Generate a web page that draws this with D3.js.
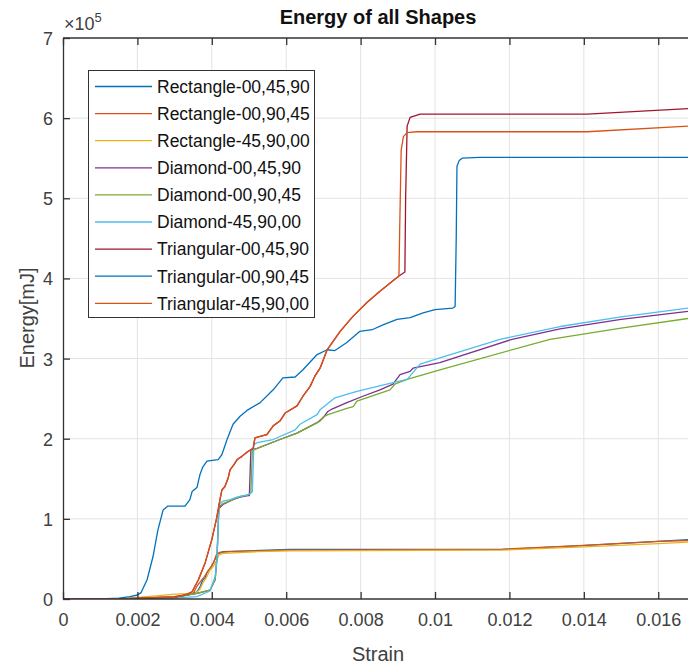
<!DOCTYPE html>
<html><head><meta charset="utf-8">
<script src="https://cdn.jsdelivr.net/npm/d3@7"></script>
<style>body{margin:0;background:#fff}</style>
</head><body><svg id="c" width="688" height="668"></svg>
<script>
// ---- data (strain, energy in units of 1e5 mJ) ----
const seriesNames = ["Rectangle-00,45,90","Rectangle-00,90,45","Rectangle-45,90,00",
  "Diamond-00,45,90","Diamond-00,90,45","Diamond-45,90,00",
  "Triangular-00,45,90","Triangular-00,90,45","Triangular-45,90,00"];
const seriesColors = ["#0072BD","#D95319","#EDB120","#7E2F8E","#77AC30","#4DBEEE","#A2142F","#0072BD","#D95319"];

const rect_00_45_90 = [[0,0],[0.0015,0],[0.0030,0.03],[0.00347,0.06],[0.00360,0.09],[0.00368,0.15],[0.00376,0.24],[0.00382,0.26],[0.00387,0.33],[0.00395,0.38],[0.00403,0.44],[0.00409,0.50],[0.00414,0.56],[0.00430,0.59],[0.00500,0.60],[0.00610,0.62],[0.0118,0.62],[0.0137,0.66],[0.0160,0.72],[0.0168,0.74]];
const rect_00_90_45 = [[0,0],[0.0015,0],[0.0030,0.03],[0.00350,0.07],[0.00360,0.16],[0.00370,0.22],[0.00380,0.28],[0.00390,0.35],[0.00398,0.40],[0.00405,0.46],[0.00412,0.55],[0.00420,0.58],[0.00450,0.59],[0.00600,0.61],[0.0118,0.62],[0.0140,0.67],[0.0160,0.72],[0.0168,0.73]];
const rect_45_90_00 = [[0,0],[0.0015,0],[0.0025,0.04],[0.0030,0.06],[0.00355,0.07],[0.00368,0.12],[0.00376,0.20],[0.00387,0.28],[0.00395,0.36],[0.00403,0.40],[0.00414,0.49],[0.00419,0.55],[0.00430,0.57],[0.00522,0.59],[0.00610,0.60],[0.0118,0.61],[0.0140,0.65],[0.0160,0.69],[0.0168,0.71]];
const dia_00_45_90 = [[0,0],[0.0015,0],[0.0030,0.02],[0.00360,0.07],[0.00395,0.11],[0.00409,0.24],[0.00414,0.53],[0.00419,1.13],[0.00430,1.18],[0.00457,1.24],[0.00476,1.27],[0.00497,1.29],[0.00501,1.29],[0.00505,1.86],[0.00522,1.88],[0.00583,1.99],[0.00629,2.07],[0.00683,2.20],[0.00699,2.26],[0.00712,2.34],[0.00723,2.37],[0.00763,2.45],[0.00806,2.53],[0.00852,2.61],[0.00887,2.68],[0.00906,2.80],[0.00933,2.84],[0.00941,2.88],[0.01013,2.95],[0.01207,3.24],[0.01336,3.37],[0.0150,3.49],[0.0168,3.59]];
const dia_00_90_45 = [[0,0],[0.0015,0],[0.0030,0.02],[0.00360,0.07],[0.00395,0.11],[0.00409,0.24],[0.00414,0.53],[0.00419,1.15],[0.00430,1.19],[0.00457,1.24],[0.00476,1.28],[0.00497,1.30],[0.00505,1.32],[0.00509,1.85],[0.00522,1.88],[0.00583,1.99],[0.00629,2.07],[0.00691,2.22],[0.00699,2.27],[0.00712,2.30],[0.00763,2.38],[0.00780,2.40],[0.00790,2.47],[0.00879,2.61],[0.00892,2.68],[0.00925,2.74],[0.01013,2.86],[0.01309,3.24],[0.0150,3.38],[0.0168,3.50]];
const dia_45_90_00 = [[0,0],[0.0015,0],[0.0030,0.01],[0.00360,0.03],[0.00395,0.10],[0.00409,0.28],[0.00414,0.49],[0.00417,0.90],[0.00419,1.18],[0.00430,1.22],[0.00449,1.24],[0.00468,1.27],[0.00497,1.30],[0.00503,1.32],[0.00509,1.34],[0.00513,1.93],[0.00522,1.95],[0.00565,1.99],[0.00624,2.11],[0.00637,2.18],[0.00683,2.30],[0.00691,2.36],[0.00731,2.51],[0.00790,2.59],[0.00887,2.70],[0.00925,2.74],[0.00960,2.93],[0.01013,3.01],[0.01175,3.24],[0.01336,3.40],[0.0150,3.52],[0.0168,3.63]];
const tri_00_45_90 = [[0,0],[0.0015,0],[0.0030,0.02],[0.00328,0.05],[0.00347,0.09],[0.00364,0.24],[0.00382,0.45],[0.00400,0.74],[0.00413,1.01],[0.00422,1.24],[0.00427,1.36],[0.00435,1.40],[0.00444,1.51],[0.00449,1.61],[0.00460,1.68],[0.00468,1.74],[0.00481,1.78],[0.00497,1.84],[0.00511,1.88],[0.00516,2.01],[0.00530,2.03],[0.00548,2.05],[0.00565,2.16],[0.00583,2.22],[0.00597,2.32],[0.00629,2.41],[0.00645,2.53],[0.00664,2.65],[0.00677,2.78],[0.00691,2.88],[0.00710,3.11],[0.00745,3.34],[0.00780,3.53],[0.00817,3.70],[0.00852,3.84],[0.00887,3.97],[0.00903,4.03],[0.00919,4.08],[0.00921,5.0],[0.00925,5.90],[0.00933,6.01],[0.00960,6.05],[0.01409,6.05],[0.0168,6.12]];
const tri_00_90_45 = [[0,0],[0.0010,0],[0.0015,0.01],[0.0018,0.03],[0.0020,0.05],[0.0021,0.08],[0.00226,0.24],[0.00242,0.53],[0.00255,0.86],[0.00269,1.11],[0.00282,1.16],[0.00328,1.16],[0.00341,1.24],[0.00347,1.34],[0.00360,1.39],[0.00368,1.55],[0.00376,1.65],[0.00387,1.72],[0.00417,1.74],[0.00427,1.80],[0.00441,1.99],[0.00457,2.18],[0.00476,2.28],[0.00497,2.36],[0.00530,2.45],[0.00565,2.61],[0.00591,2.76],[0.00624,2.77],[0.00645,2.86],[0.00683,3.05],[0.00710,3.11],[0.00731,3.10],[0.00763,3.20],[0.00798,3.34],[0.00831,3.36],[0.00860,3.42],[0.00898,3.49],[0.00933,3.51],[0.00968,3.57],[0.01000,3.61],[0.01048,3.63],[0.01054,3.65],[0.01057,4.5],[0.01059,5.40],[0.01065,5.47],[0.01073,5.50],[0.0112,5.51],[0.0168,5.51]];
const tri_45_90_00 = [[0,0],[0.0015,0],[0.0030,0.02],[0.00328,0.05],[0.00347,0.09],[0.00364,0.24],[0.00382,0.45],[0.00400,0.74],[0.00413,1.01],[0.00422,1.24],[0.00427,1.36],[0.00435,1.40],[0.00444,1.51],[0.00449,1.61],[0.00460,1.68],[0.00468,1.74],[0.00481,1.78],[0.00497,1.84],[0.00511,1.88],[0.00516,2.01],[0.00530,2.03],[0.00548,2.05],[0.00565,2.16],[0.00583,2.22],[0.00597,2.32],[0.00629,2.41],[0.00645,2.53],[0.00664,2.65],[0.00677,2.78],[0.00691,2.88],[0.00710,3.11],[0.00745,3.34],[0.00780,3.53],[0.00817,3.70],[0.00852,3.84],[0.00887,3.97],[0.00903,4.03],[0.00905,4.6],[0.00909,5.6],[0.00915,5.77],[0.00925,5.82],[0.00950,5.83],[0.01409,5.83],[0.0168,5.90]];

const xTicks = [0,0.002,0.004,0.006,0.008,0.01,0.012,0.014,0.016];
const xTickLabels = ["0","0.002","0.004","0.006","0.008","0.01","0.012","0.014","0.016"];
const yTicks = [0,1,2,3,4,5,6,7];
const yTickLabels = ["0","1","2","3","4","5","6","7"];
const titleText = "Energy of all Shapes";
const xLabelText = "Strain";
const yLabelText = "Energy[mJ]";

const seriesData = [rect_00_45_90, rect_00_90_45, rect_45_90_00, dia_00_45_90, dia_00_90_45, dia_45_90_00, tri_00_45_90, tri_00_90_45, tri_45_90_00];

// ---- drawing ----
const svg = d3.select("#c");
const font = "'Liberation Sans', Arial, sans-serif";
const L = 63, R = 688, T = 38, B = 599;
const x = d3.scaleLinear().domain([0, 0.0168]).range([L, R]);
const y = d3.scaleLinear().domain([0, 7]).range([B, T]);

svg.append("rect").attr("width",688).attr("height",668).attr("fill","#fff");

// grid
const g = svg.append("g");
g.selectAll(".gx").data(xTicks.slice(1)).enter().append("line")
  .attr("x1",d=>x(d)).attr("x2",d=>x(d)).attr("y1",T).attr("y2",B)
  .attr("stroke","#e3e3e3").attr("stroke-width",1);
g.selectAll(".gy").data(yTicks.slice(1,-1)).enter().append("line")
  .attr("y1",d=>y(d)).attr("y2",d=>y(d)).attr("x1",L).attr("x2",R)
  .attr("stroke","#e3e3e3").attr("stroke-width",1);

// curves
svg.append("clipPath").attr("id","clip").append("rect").attr("x",L).attr("y",T-2).attr("width",R-L+2).attr("height",B-T+2);
const line = d3.line().x(d=>x(d[0])).y(d=>y(d[1]));
const cg = svg.append("g").attr("clip-path","url(#clip)");
seriesData.forEach((s,i)=>{
  cg.append("path").attr("d",line(s)).attr("fill","none")
    .attr("stroke",seriesColors[i]).attr("stroke-width",1.3).attr("stroke-linejoin","round");
});

// axes
const axCol = "#333";
const xb = svg.append("g").attr("transform",`translate(0,${B})`)
  .call(d3.axisBottom(x).tickValues(xTicks).tickFormat((d,i)=>xTickLabels[i]).tickSizeInner(-7).tickSizeOuter(0).tickPadding(14));
const xt = svg.append("g").attr("transform",`translate(0,${T})`)
  .call(d3.axisTop(x).tickValues(xTicks).tickFormat("").tickSizeInner(-7).tickSizeOuter(0));
const yl = svg.append("g").attr("transform",`translate(${L},0)`)
  .call(d3.axisLeft(y).tickValues(yTicks).tickFormat((d,i)=>yTickLabels[i]).tickSizeInner(-7).tickSizeOuter(0).tickPadding(10));
[xb,xt,yl].forEach(a=>{
  a.select(".domain").attr("stroke",axCol).attr("stroke-width",1.3);
  a.selectAll(".tick line").attr("stroke",axCol).attr("stroke-width",1.3);
  a.selectAll("text").attr("fill","#404040").style("font-family",font).style("font-size","18px");
});
xb.select(".domain").attr("d",`M${L},0H${R+2}`);
xt.select(".domain").attr("d",`M${L},0H${R+2}`);
yl.selectAll("text").attr("dy","0.36em");

// exponent
const ex = svg.append("text").attr("x",L+1).attr("y",30).attr("fill","#404040")
  .style("font-family",font).style("font-size","18px");
ex.append("tspan").text("\u00d710");
ex.append("tspan").attr("dy",-8).style("font-size","13px").text("5");

// title & labels
svg.append("text").attr("x",378).attr("y",24).attr("text-anchor","middle")
  .style("font-family",font).style("font-size","20px").style("font-weight","bold").attr("fill","#111")
  .text(titleText);
svg.append("text").attr("x",378).attr("y",661).attr("text-anchor","middle")
  .style("font-family",font).style("font-size","20px").attr("fill","#404040").text(xLabelText);
svg.append("text").attr("transform","translate(34,318) rotate(-90)").attr("text-anchor","middle")
  .style("font-family",font).style("font-size","20px").attr("fill","#404040").text(yLabelText);

// legend
const lg = svg.append("g");
lg.append("rect").attr("x",88.5).attr("y",70.5).attr("width",226).attr("height",247)
  .attr("fill","#fff").attr("stroke","#333").attr("stroke-width",1);
seriesNames.forEach((n,i)=>{
  const yy = 86.5 + i*27.1;
  lg.append("line").attr("x1",95).attr("x2",152).attr("y1",yy).attr("y2",yy)
    .attr("stroke",seriesColors[i]).attr("stroke-width",1.3);
  lg.append("text").attr("x",157).attr("y",yy).attr("dy","0.36em")
    .style("font-family",font).style("font-size","17.5px").attr("fill","#111").text(n);
});
</script></body></html>
